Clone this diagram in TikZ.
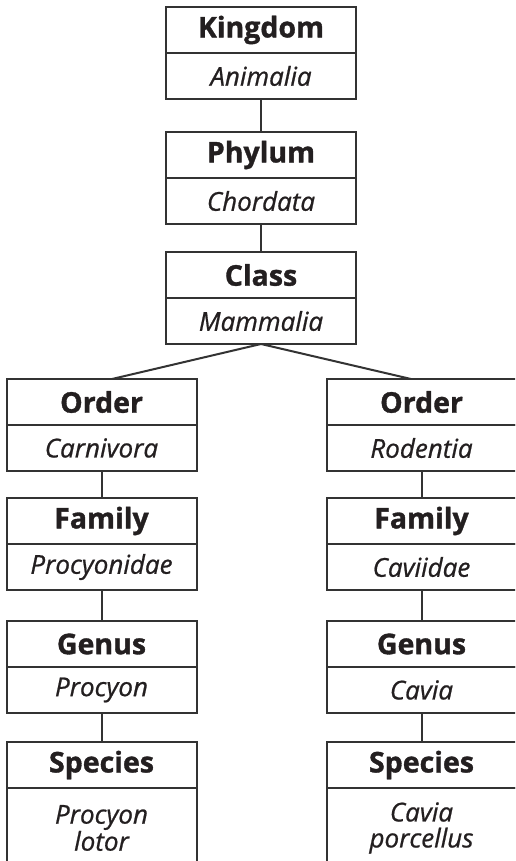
\documentclass[tikz,border=0pt]{standalone}
\usepackage{fontspec}
\setmainfont{Open Sans}
\usetikzlibrary{positioning,calc}
\definecolor{ink}{HTML}{231F20}
\definecolor{rule}{HTML}{333333}
\tikzset{
  half/.style={draw=rule,line width=2pt,outer sep=0pt,inner sep=0pt,
    minimum width=190pt,minimum height=46pt,text=ink,align=center},
  rank/.style={half,font=\fontsize{28.5}{26}\selectfont\bfseries\addfontfeature{FakeBold=1.2}},
  latin/.style={half,font=\fontsize{26}{26}\selectfont\itshape\addfontfeature{FakeBold=0.8}},
  link/.style={draw=rule,line width=2pt}
}
% one taxon box: rank on top, latin name below
\newcommand{\taxon}[5][]{%
  \node[rank,anchor=north] (#2-r) at (#3) {#4};
  \node[latin,below=0pt of #2-r,#1] (#2-n) {#5};}

\begin{document}
\begin{tikzpicture}[x=1pt,y=-1pt]
  \useasboundingbox (0,0) rectangle (515,861);
  \clip (0,0) rectangle (515,861);
  \taxon{kgd}{261,7}{Kingdom}{Animalia}
  \taxon{phy}{261,132}{Phylum}{Chordata}
  \taxon{cls}{261,252}{Class}{Mammalia}
  % left branch
  \taxon{ordL}{101.5,379}{Order}{Carnivora}
  \taxon{famL}{101.5,498}{Family}{Procyonidae}
  \taxon{genL}{101.5,621}{Genus}{Procyon}
  \taxon[minimum height=80pt]{spcL}{101.5,742}{Species}{Procyon\\lotor}
  % right branch
  \taxon{ordR}{421.5,379}{Order}{Rodentia}
  \taxon{famR}{421.5,498}{Family}{Caviidae}
  \taxon{genR}{421.5,621}{Genus}{Cavia}
  \taxon[minimum height=80pt]{spcR}{421.5,742}{Species}{Cavia\\porcellus}
  \draw[link] (kgd-n.south) -- (phy-r.north);
  \draw[link] (phy-n.south) -- (cls-r.north);
  \draw[link] (cls-n.south) -- ($(ordL-r.north)+(10.5,0)$);
  \draw[link] (cls-n.south) -- ($(ordR-r.north)+(-10.5,0)$);
  \draw[link] (ordL-n.south) -- (famL-r.north);
  \draw[link] (famL-n.south) -- (genL-r.north);
  \draw[link] (genL-n.south) -- (spcL-r.north);
  \draw[link] (ordR-n.south) -- (famR-r.north);
  \draw[link] (famR-n.south) -- (genR-r.north);
  \draw[link] (genR-n.south) -- (spcR-r.north);
\end{tikzpicture}
\end{document}
